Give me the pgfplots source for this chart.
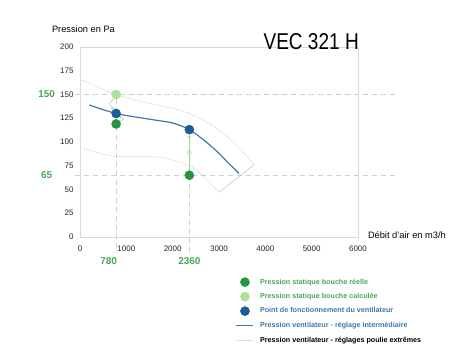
\documentclass[border=0pt]{standalone}
\usepackage{fontspec}
\setmainfont{Liberation Sans}
\usepackage{pgfplots}
\pgfplotsset{compat=1.18}
\definecolor{dgreen}{RGB}{38,150,62}
\definecolor{lgreen}{RGB}{170,225,160}
\definecolor{pblue}{RGB}{30,92,150}
\definecolor{cblue}{RGB}{60,120,170}
\definecolor{lblgreen}{RGB}{70,168,88}
\definecolor{dashc}{RGB}{185,220,195}
\definecolor{boxc}{RGB}{218,218,218}
\definecolor{bandc}{RGB}{165,165,165}
\definecolor{arrc}{RGB}{150,212,150}
\begin{document}
\begin{tikzpicture}
\useasboundingbox (-80bp,-117bp) rectangle (381bp,237bp);
\begin{axis}[at={(0,0)}, anchor=south west, scale only axis,
  width=278bp, height=190bp,
  xmin=0, xmax=6000, ymin=0, ymax=200,
  xtick={0,1000,...,6000}, ytick={0,25,...,200},
  axis line style={boxc}, major tick length=0pt,
  tick label style={font=\fontsize{8}{9}\selectfont, text=black!85},
  /pgf/number format/assume math mode=true,
  /pgf/number format/1000 sep={},
  xticklabel style={yshift=-5bp},
  yticklabel style={xshift=-3bp},
  clip=false,
  legend style={at={(axis cs:3360,-41.5)}, anchor=north west, draw=none, fill=none,
    font=\fontsize{7.2}{8}\selectfont\bfseries, row sep=3.5bp, inner sep=0pt,
    nodes={minimum height=11bp}, cells={anchor=west}},
  legend cell align=left,
]
% reference dashed lines
\addplot[dashc, line width=0.8pt, dash pattern=on 5bp off 4bp, forget plot] coordinates {(-100,150) (6870,150)};
\addplot[dashc, line width=0.8pt, dash pattern=on 5bp off 4bp, forget plot] coordinates {(-100,65) (6870,65)};
\addplot[dashc, line width=0.8pt, dash pattern=on 5bp off 4bp, forget plot] coordinates {(780,155) (780,-16)};
\addplot[dashc, line width=0.8pt, dash pattern=on 5bp off 4bp, forget plot] coordinates {(2360,65) (2360,-16)};
% band of extreme settings
\addplot[bandc, densely dotted, line width=0.5pt, smooth, forget plot] coordinates {
 (50,165) (780,150) (1380,142) (2250,132) (2830,118) (3330,99) (3760,76)};
\addplot[bandc, line width=0.3pt, forget plot] coordinates {(3760,76) (3000,47)};
\addplot[bandc, densely dotted, line width=0.5pt, smooth, forget plot] coordinates {
 (90,93) (730,85) (1740,84) (2400,74) (2680,63) (3000,47)};
% fan curve
\addplot[cblue, line width=1.2pt, smooth, forget plot] coordinates {
 (200,139) (780,130) (1500,124) (2000,120) (2360,113) (2700,101) (3000,88) (3200,78) (3430,67)};
% arrows
\addplot[arrc, line width=0.5pt, -stealth, smooth, forget plot] coordinates {(740,146) (640,140) (740,134)};
\addplot[arrc, line width=0.5pt, -stealth, smooth, forget plot] coordinates {(830,121) (940,124) (830,128)};
\addplot[arrc, line width=0.5pt, -stealth, forget plot] coordinates {(2360,70) (2360,108)};
\addplot[arrc, only marks, mark=o, mark size=2pt, forget plot] coordinates {(2360,89)};
% points
\addplot[only marks, mark=*, mark size=4.6pt, lgreen, forget plot] coordinates {(780,150)};
\addplot[only marks, mark=*, mark size=4.6pt, pblue, forget plot] coordinates {(780,130) (2360,113)};
\addplot[only marks, mark=*, mark size=4.6pt, dgreen, forget plot] coordinates {(780,119) (2360,65)};
% legend
\addlegendimage{only marks, mark=*, mark size=4.6pt, dgreen}
\addlegendentry{\hspace{4bp}\textcolor{lblgreen}{Pression statique bouche réelle}}
\addlegendimage{only marks, mark=*, mark size=4.6pt, lgreen}
\addlegendentry{\hspace{4bp}\textcolor{lblgreen}{Pression statique bouche calculée}}
\addlegendimage{only marks, mark=*, mark size=4.6pt, pblue}
\addlegendentry{\hspace{4bp}\textcolor{cblue}{Point de fonctionnement du ventilateur}}
\addlegendimage{cblue, line width=1.2pt}
\addlegendentry{\hspace{4bp}\textcolor{cblue}{Pression ventilateur - réglage intermédiaire}}
\addlegendimage{black!12, line width=0.6pt}
\addlegendentry{\hspace{4bp}Pression ventilateur - réglages poulie extrêmes}
% texts
\node[font=\fontsize{10}{12}\selectfont\bfseries, text=lblgreen] at (axis cs:-720,150) {150};
\node[font=\fontsize{10}{12}\selectfont\bfseries, text=lblgreen] at (axis cs:-720,65) {65};
\node[font=\fontsize{10}{12}\selectfont\bfseries, text=lblgreen] at (axis cs:620,-25) {780};
\node[font=\fontsize{10}{12}\selectfont\bfseries, text=lblgreen] at (axis cs:2360,-25) {2360};
\node[font=\fontsize{23}{26}\selectfont, xscale=0.83, anchor=center] at (axis cs:4990,206) {VEC 321 H};
\node[font=\fontsize{9.3}{11}\selectfont, anchor=west] at (axis cs:-680,219) {Pression en Pa};
\node[font=\fontsize{9.3}{11}\selectfont, anchor=west] at (axis cs:6140,2) {Débit d'air en m3/h};
\end{axis}
\end{tikzpicture}
\end{document}
